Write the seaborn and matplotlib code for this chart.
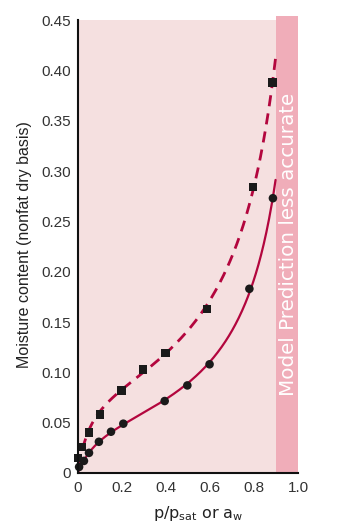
import numpy as np
import pandas as pd
import matplotlib
matplotlib.use("Agg")
import matplotlib.pyplot as plt
import seaborn as sns

# Data
desorp_aw = [0.0, 0.015, 0.05, 0.10, 0.197, 0.295, 0.399, 0.586, 0.795, 0.885]
desorp_m = [0.015, 0.026, 0.040, 0.058, 0.082, 0.103, 0.119, 0.163, 0.284, 0.388]
adsorp_aw = [0.005, 0.027, 0.05, 0.095, 0.15, 0.206, 0.394, 0.497, 0.598, 0.779, 0.886]
adsorp_m = [0.006, 0.012, 0.020, 0.031, 0.041, 0.049, 0.0715, 0.087, 0.108, 0.183, 0.273]
x_ticks = [0, 0.2, 0.4, 0.6, 0.8, 1.0]
x_ticklabels = ["0", "0.2", "0.4", "0.6", "0.8", "1.0"]
y_ticks = [0, 0.05, 0.10, 0.15, 0.20, 0.25, 0.30, 0.35, 0.40, 0.45]
y_ticklabels = ["0", "0.05", "0.10", "0.15", "0.20", "0.25", "0.30", "0.35", "0.40", "0.45"]

CURVE = "#b3063e"
PALE = "#f5e0e0"
PINK = "#f0adb9"

sns.set_style("white")
plt.rcParams["font.family"] = ["Liberation Sans", "DejaVu Sans"]


def gab_fit(aw, m, grid):
    """GAB-type isotherm M = aw / (a aw^2 + b aw + c), least squares in M."""
    aw = np.asarray(aw, float)
    m = np.asarray(m, float)
    sel = aw > 0
    x, y = aw[sel], m[sel]
    p = np.polyfit(x, x / y, 2)

    def sse(pp):
        q = np.polyval(pp, x)
        return np.sum((y - x / q) ** 2) if np.all(q > 0) else np.inf

    best = sse(p)
    for _ in range(60):
        q = np.polyval(p, x)
        r = y - x / q
        J = np.column_stack([-x ** 3 / q ** 2, -x ** 2 / q ** 2, -x / q ** 2])
        step = np.linalg.lstsq(J, r, rcond=None)[0]
        lam = 1.0
        improved = False
        while lam > 1e-4:
            cand = p + lam * step
            val = sse(cand)
            if np.isfinite(val) and val < best:
                p, best, improved = cand, val, True
                break
            lam *= 0.5
        if not improved:
            break
    return grid / np.polyval(p, grid)


fig = plt.figure(figsize=(3.4, 5.3), dpi=100)
ax = fig.add_axes([78 / 340, 57 / 530, 220 / 340, 457 / 530])
ax.set_xlim(0, 1.0)
ax.set_ylim(0, 0.454)

ax.add_patch(plt.Rectangle((0, 0), 0.9, 0.45, color=PALE, lw=0, zorder=0))
ax.add_patch(plt.Rectangle((0.9, 0), 0.1, 0.454, color=PINK, lw=0, zorder=0))

grid_d = np.linspace(0.004, 0.898, 300)
grid_a = np.linspace(0.004, 0.898, 300)
df_d = pd.DataFrame({"aw": grid_d, "m": gab_fit(desorp_aw[1:], desorp_m[1:], grid_d)})
df_a = pd.DataFrame({"aw": grid_a, "m": gab_fit(adsorp_aw, adsorp_m, grid_a)})

sns.lineplot(data=df_d, x="aw", y="m", ax=ax, color=CURVE, lw=2.0,
             dashes=False, linestyle=(0, (4, 2.6)), zorder=2)
sns.lineplot(data=df_a, x="aw", y="m", ax=ax, color=CURVE, lw=1.6, zorder=2)

sns.scatterplot(x=desorp_aw, y=desorp_m, ax=ax, marker="s", s=38, color="#1a1a1a",
                edgecolor="none", zorder=3, clip_on=False)
sns.scatterplot(x=adsorp_aw, y=adsorp_m, ax=ax, marker="o", s=38, color="#1a1a1a",
                edgecolor="none", zorder=3, clip_on=False)

ax.text(0.955, 0.2275, "Model Prediction less accurate", rotation=90, color="white",
        ha="center", va="center", fontsize=14.3, family=["DejaVu Sans"], zorder=4)

for s in ["top", "right"]:
    ax.spines[s].set_visible(False)
ax.spines["left"].set_bounds(0, 0.45)
for s in ["left", "bottom"]:
    ax.spines[s].set_color("#111111")
    ax.spines[s].set_linewidth(1.5)
    ax.spines[s].set_zorder(5)

ax.set_xticks(x_ticks)
ax.set_xticklabels(x_ticklabels)
ax.set_xticks(np.arange(0.05, 1.0, 0.1), minor=True)
ax.set_yticks(y_ticks)
ax.set_yticklabels(y_ticklabels)
ax.tick_params(axis="x", which="both", direction="in", length=7, width=1.3,
               color="#111111", labelsize=11, labelcolor="#333333", pad=6)
ax.tick_params(axis="y", which="both", direction="in", length=8, width=1.3,
               color="#111111", labelsize=11, labelcolor="#333333", pad=5)

ax.set_xlabel("p/p$_{\\mathregular{sat}}$ or a$_{\\mathregular{w}}$", fontsize=11.5,
              family=["DejaVu Sans"], color="#222222")
ax.xaxis.set_label_coords(0.545, -0.068)
ax.set_ylabel("Moisture content (nonfat dry basis)", fontsize=11.5, color="#222222",
              labelpad=7)

fig.savefig("out.png", dpi=100)
